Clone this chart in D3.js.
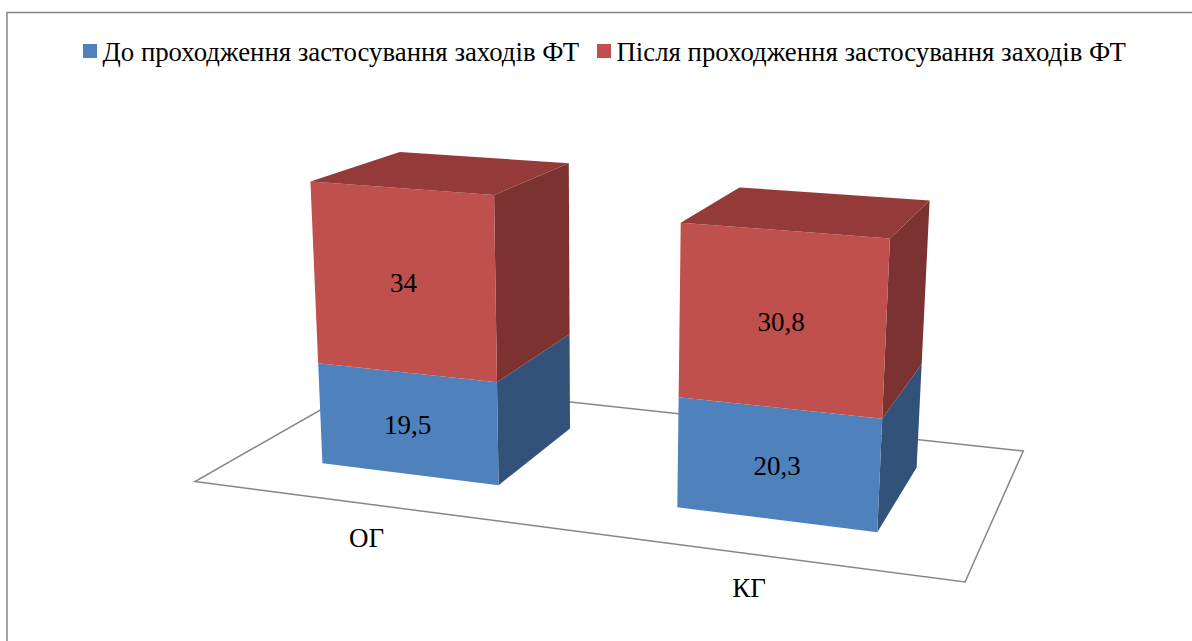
<!DOCTYPE html>
<html>
<head>
<meta charset="utf-8">
<script src="https://cdn.jsdelivr.net/npm/d3@7"></script>
<style>
    html, body { margin: 0; padding: 0; background: #fff; overflow: hidden; }
    text { font-family: "Liberation Serif", "Times New Roman", serif; fill: #000; }
</style>
</head>
<body>
<div id="chart"></div>
<script>
// chart values
const categories = ['ОГ', 'КГ'];
const seriesNames = ['До проходження застосування заходів ФТ', 'Після проходження застосування заходів ФТ'];
const beforeValues = [19.5, 20.3];
const afterValues = [34, 30.8];

const frontColors = ['#4f81bd', '#c0504d'];
const sideColors = ['#32527a', '#7c3230'];
const topColor = '#943b39';

const width = 1192, height = 641;

let svg = d3.select('#chart').append('svg')
    .attr('width', width)
    .attr('height', height);

// u = across the floor, w = into the floor, h = up the value axis (all 0..1)
let xScale = d3.scaleBand().domain(categories).range([0, 0.9925]).paddingInner(0.488).paddingOuter(0.2385);
let depthScale = d3.scaleLinear().domain([0, 1]).range([0.243, 0.758]);
let valueScale = d3.scaleLinear().domain([0, 60]).range([0, 1]);

// perspective camera of the 3d chart, fitted to the picture
function project(u, w, h) {
    let d = -0.1249 * u + 0.1934 * w - 0.048 * h + 1;
    return [
        (649.5 * u + 248.9 * w - 28.8 * h + 195) / d,
        (27.8 * u - 27.4 * w - 334.8 * h + 481.5) / d
    ];
}

let line = d3.line().curve(d3.curveLinearClosed);
let commaFormat = d3.formatLocale({decimal: ',', thousands: ' ', grouping: [3], currency: ['', '']}).format('.3~g');

// outer frame, runs off the right and bottom of the window
svg.append('rect')
    .attr('x', 7)
    .attr('y', 12.5)
    .attr('width', width + 20)
    .attr('height', height + 20)
    .attr('fill', 'none')
    .attr('stroke', '#868686')
    .attr('stroke-width', 1.5);

// floor
svg.append('path')
    .attr('d', line([[0, 0], [1, 0], [1, 1], [0, 1]].map(c => project(c[0], c[1], 0))))
    .attr('fill', 'none')
    .attr('stroke', '#868686')
    .attr('stroke-width', 1.5);

// stacked bars
let table = categories.map((c, i) => ({category: c, before: beforeValues[i], after: afterValues[i]}));
let stacked = d3.stack().keys(['before', 'after'])(table);

let x0 = c => xScale(c);
let x1 = c => xScale(c) + xScale.bandwidth();
let zFront = depthScale(0), zBack = depthScale(1);

let segments = [];
stacked.forEach((layer, s) => {
    layer.forEach(d => {
        segments.push({category: d.data.category, s: s, low: valueScale(d[0]), high: valueScale(d[1]), value: d[1] - d[0]});
    });
});

let bars = svg.selectAll('.bar')
    .data(categories)
    .enter().append('g')
    .attr('class', 'bar');

bars.each(function(cat) {
    let g = d3.select(this);
    let parts = segments.filter(d => d.category === cat);

    parts.forEach(d => {
        // right side
        g.append('path')
            .attr('d', line([
                project(x1(cat), zFront, d.low), project(x1(cat), zBack, d.low),
                project(x1(cat), zBack, d.high), project(x1(cat), zFront, d.high)
            ]))
            .attr('fill', sideColors[d.s]);
        // front
        g.append('path')
            .attr('d', line([
                project(x0(cat), zFront, d.low), project(x1(cat), zFront, d.low),
                project(x1(cat), zFront, d.high), project(x0(cat), zFront, d.high)
            ]))
            .attr('fill', frontColors[d.s]);
    });

    // top of the last segment
    let last = parts[parts.length - 1];
    g.append('path')
        .attr('d', line([
            project(x0(cat), zFront, last.high), project(x1(cat), zFront, last.high),
            project(x1(cat), zBack, last.high), project(x0(cat), zBack, last.high)
        ]))
        .attr('fill', topColor);

    // value labels
    parts.forEach(d => {
        let p = project(x0(cat) + xScale.bandwidth() / 2, zFront, (d.low + d.high) / 2);
        g.append('text')
            .attr('x', p[0])
            .attr('y', p[1] + 10.5)
            .attr('text-anchor', 'middle')
            .attr('font-size', 27)
            .text(commaFormat(d.value));
    });
});

// category labels under the floor edge
svg.selectAll('.cat-label')
    .data(categories)
    .enter().append('text')
    .attr('class', 'cat-label')
    .attr('x', d => project(x0(d) + xScale.bandwidth() / 2, 0, 0)[0])
    .attr('y', d => project(x0(d) + xScale.bandwidth() / 2, 0, 0)[1] + 43)
    .attr('text-anchor', 'middle')
    .attr('font-size', 27)
    .text(d => d);

// legend
let legendX = [83, 597];
let legend = svg.selectAll('.legend')
    .data(seriesNames)
    .enter().append('g')
    .attr('class', 'legend')
    .attr('transform', (d, i) => 'translate(' + legendX[i] + ',0)');

legend.append('rect')
    .attr('y', 44)
    .attr('width', 14)
    .attr('height', 14)
    .attr('fill', (d, i) => frontColors[i]);

legend.append('text')
    .attr('x', 19.5)
    .attr('y', 61)
    .attr('font-size', 26.8)
    .text(d => d);
</script>
</body>
</html>
